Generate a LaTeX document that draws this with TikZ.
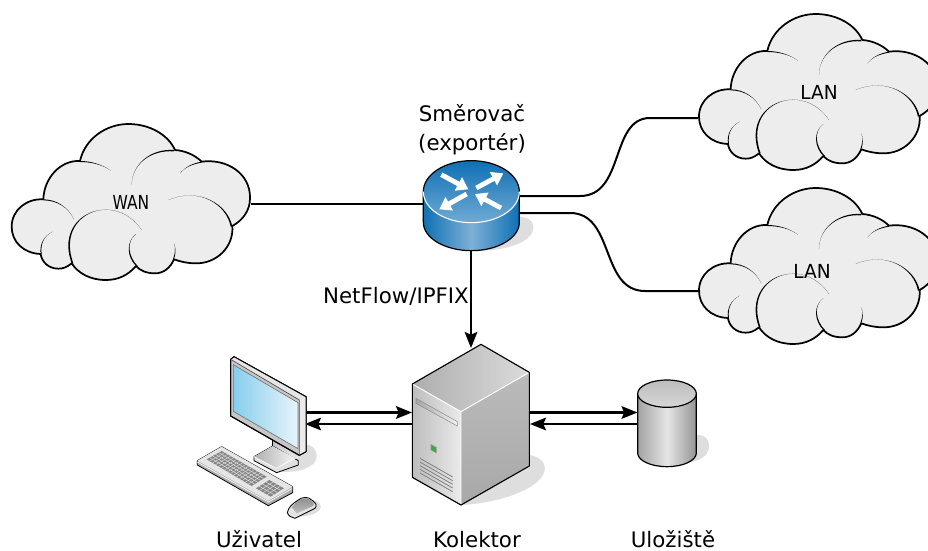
\documentclass[tikz,border=0pt]{standalone}
\usepackage{fontspec}
\usepackage{graphicx}
\setmainfont{DejaVu Sans}
\usetikzlibrary{arrows.meta,calc}
\definecolor{cloudfill}{HTML}{EDEDED}
\definecolor{shadowgray}{HTML}{DEDEDE}
\definecolor{rblue}{RGB}{15,112,180}
\definecolor{rmid}{RGB}{125,176,214}
\definecolor{rlow}{RGB}{112,170,212}
\tikzset{
  zoomscale/.style={x=.25pt,y=-.25pt},
  link/.style={line width=1.5pt,black},
  flow/.style={line width=1.6pt,black,-{Stealth[length=12pt,width=9.5pt,inset=2pt]}},
  label/.style={font=\fontsize{16pt}{21.75pt}\selectfont,align=center,inner sep=0pt,text=black},
  smalllabel/.style={font=\fontsize{14.5pt}{18pt}\selectfont,align=center,inner sep=0pt,text=black},
  outl/.style={draw=black,line width=.9pt,line join=round},
  shadowblob/.style={fill=shadowgray,draw=none},
  routerarrow/.style={white,line width=3.6pt,-{Triangle[length=8.5pt,width=11pt]}},
}
\newcommand{\tap}[5]{\fill[black] (#1) .. controls (#2) and (#3) .. (#4) .. controls (#3) and ($(#2)+(#5)$) .. ($(#1)+(#5)$) -- cycle;}
\newcommand{\cloudshape}{%
  \path[outl,fill=cloudfill,line width=1.3pt]
   (240,153) .. controls (255,85) and (320,42) .. (385,42)
   .. controls (450,42) and (505,75) .. (525,120)
   .. controls (555,122) and (585,135) .. (605,155)
   .. controls (680,145) and (752,190) .. (750,265)
   .. controls (750,300) and (730,330) .. (697,348)
   .. controls (702,410) and (650,462) .. (585,460)
   .. controls (565,460) and (540,455) .. (522,448)
   .. controls (510,475) and (490,490) .. (465,490)
   .. controls (440,490) and (420,482) .. (408,468)
   .. controls (385,495) and (355,510) .. (318,510)
   .. controls (270,510) and (235,490) .. (215,460)
   .. controls (200,472) and (190,476) .. (175,476)
   .. controls (145,476) and (125,455) .. (122,432)
   .. controls (70,430) and (35,395) .. (35,350)
   .. controls (35,300) and (80,265) .. (130,268)
   .. controls (132,205) and (180,150) .. (240,153) -- cycle;
  \tap{240,153}{275,153}{310,165}{332,182}{0,3}
  \tap{522,120}{450,115}{395,165}{395,225}{0,4}
  \tap{605,155}{575,160}{555,172}{540,190}{0,3}
  \tap{697,350}{685,285}{600,230}{505,270}{-5,0}
  \tap{215,460}{160,310}{345,240}{425,360}{5,0}
  \tap{408,468}{380,440}{378,395}{408,372}{5,0}
  \tap{522,448}{528,430}{528,415}{522,400}{-3,0}
  \tap{130,268}{170,268}{205,292}{222,328}{0,3}
  \tap{122,432}{118,405}{130,378}{158,365}{3,0}
}
\begin{document}
\begin{tikzpicture}[x=.75pt,y=-.75pt]
\useasboundingbox (0,0) rectangle (928,550);
\clip (0,0) rectangle (928,550);

% connectors
\coordinate (wanR) at (251,204);
\coordinate (rtrL) at (423,204);
\coordinate (rtrR1) at (519,196);
\coordinate (rtrR2) at (519,213);
\coordinate (lanA) at (698,118);
\coordinate (lanB) at (700,291);
\coordinate (rtrB) at (471,250);
\coordinate (srvT) at (471,348);
\coordinate (pcR1) at (305,412.5);
\coordinate (pcR2) at (305,424);
\coordinate (srvL1) at (412,412.5);
\coordinate (srvL2) at (412,424);
\coordinate (srvR1) at (530,412.5);
\coordinate (srvR2) at (530,424);
\coordinate (dbL1) at (637.5,412.5);
\coordinate (dbL2) at (637.5,424);

% clouds
\begin{scope}[shift={(0,110)},zoomscale]\cloudshape\end{scope}
\begin{scope}[shift={(687.3,0)},zoomscale]\cloudshape\end{scope}
\begin{scope}[shift={(687.3,174)},zoomscale]\cloudshape\end{scope}

\draw[link] (wanR) -- (rtrL);
\draw[link] (rtrR1) -- (580,196) .. controls (625,196) and (610,118) .. (650,118) -- (lanA);
\draw[link] (rtrR2) -- (570,213) .. controls (615,213) and (600,291) .. (645,291) -- (lanB);
\draw[flow] (rtrB) -- (srvT);
\draw[flow] (pcR1) -- (srvL1);
\draw[flow] (srvL2) -- (pcR2);
\draw[flow] (srvR1) -- (dbL1);
\draw[flow] (dbL2) -- (srvR2);

% router (zoom origin 400,90)
\begin{scope}[shift={(400,90)},zoomscale]
  \fill[shadowblob] (214,400) -- (340,380) .. controls (380,378) and (402,390) .. (400,415) .. controls (398,455) and (320,482) .. (240,482) -- cycle;
  \path[shade,left color=rblue,right color=rblue,middle color=rmid,outl]
    (70,305) -- (70,397) arc[start angle=180,end angle=0,x radius=144,y radius=85] -- (358,305) -- cycle;
  \path[shade,top color=rblue,bottom color=rlow,draw=none]
    (214,305) ellipse[x radius=144,y radius=93];
  \draw[black,line width=.9pt] (70,305) arc[start angle=180,end angle=360,x radius=144,y radius=93];
  \draw[white,line width=.8pt] (70,305) arc[start angle=180,end angle=0,x radius=144,y radius=93];
  \draw[routerarrow] (124,254) -- (205,298);
  \draw[routerarrow] (229,294) -- (310,250);
  \draw[routerarrow] (200,312) -- (118,358);
  \draw[routerarrow] (303,354) -- (225,312);
\end{scope}

% server (zoom origin 400,340)
\begin{scope}[shift={(400,340)},zoomscale]
  \fill[shadowblob] (183,495) -- (388,345) .. controls (425,350) and (440,375) .. (433,395) .. controls (420,445) and (300,490) .. (183,495) -- cycle;
  \path[shade,shading angle=60,left color=black!32,right color=black!14] (243,13) -- (388,97) -- (183,215) -- (37,132) -- cycle;
  \path[shade,left color=black!26,right color=black!8] (37,132) -- (183,215) -- (183,495) -- (37,412) -- cycle;
  \path[shade,top color=black!27,bottom color=black!34] (183,215) -- (388,97) -- (388,378) -- (183,495) -- cycle;
  \draw[white,line width=.7pt] (37,132) -- (183,215) -- (388,97) (183,215) -- (183,495);
  \draw[outl,line width=.85pt] (243,13) -- (388,97) -- (388,378) -- (183,495) -- (37,412) -- (37,132) -- cycle;
  \path[shade,left color=black!35,right color=black!5,draw=black!45,line width=.4pt] (48,175) -- (172,245) -- (172,258) -- (48,190) -- cycle;
  \fill[black!45] (92,312) -- (110,322) -- (110,340) -- (92,330) -- cycle;
  \fill[green!60!black!80] (95,317) -- (107,324) -- (107,336) -- (95,329) -- cycle;
  \foreach \d in {0,11,22,33,44}
    \draw[black!50,line width=.6pt] (60,355+\d) -- (158,411+\d);
\end{scope}

% storage (zoom origin 400,340)
\begin{scope}[shift={(400,340)},zoomscale]
  \fill[shadowblob] (880,285) .. controls (915,280) and (930,300) .. (927,325) .. controls (920,355) and (890,365) .. (860,367) -- cycle;
  \path[shade,left color=black!36,right color=black!42,middle color=black!10,outl]
    (713,161) -- (713,339) arc[start angle=180,end angle=0,x radius=88,y radius=41] -- (889,161) -- cycle;
  \path[shade,top color=black!26,bottom color=black!16,outl] (801,161) ellipse[x radius=88,y radius=41];
\end{scope}

% workstation (zoom origin 180,340)
\begin{scope}[shift={(180,340)},zoomscale]
  \fill[shadowblob] (290,395) .. controls (360,400) and (410,380) .. (410,350) .. controls (410,325) and (395,315) .. (375,312) -- cycle;
  \fill[shadowblob] (350,530) .. controls (395,530) and (425,515) .. (422,497) .. controls (418,485) and (405,480) .. (395,480) -- cycle;
  % stand
  \path[shade,top color=black!30,bottom color=black!8] (278,292) -- (345,330) -- (345,352) -- (278,318) -- cycle;
  \path[fill=black!12,outl,line width=.6pt] (222,350) -- (278,318) -- (355,362) -- (355,375) -- (290,398) -- (222,362) -- cycle;
  \path[shade,left color=black!32,right color=black!4] (222,350) -- (278,318) -- (345,354) -- (288,385) -- cycle;
  \draw[white,line width=.5pt] (222,350) -- (288,385) -- (355,350);
  \draw[black,line width=.6pt] (278,295) -- (278,318);
  % monitor body
  \path[fill=black!22,outl,line width=.75pt] (152,58) -- (162,50) -- (378,170) -- (378,335) -- (358,346) -- (152,228) -- cycle;
  \fill[black!8] (358,180) -- (378,170) -- (378,335) -- (358,346) -- cycle;
  \fill[black!10] (152,58) -- (162,50) -- (378,170) -- (358,180) -- cycle;
  \draw[black,line width=.75pt] (152,58) -- (162,50) -- (378,170) -- (378,335) -- (358,346) -- (152,228) -- cycle;
  \draw[black!70,line width=.5pt] (152,58) -- (358,180) -- (358,346);
  \path[shade,left color={rgb,255:red,135;green,206;blue,238},right color={rgb,255:red,232;green,244;blue,250},draw=black!55,line width=.5pt]
    (160,74) -- (354,188) -- (354,326) -- (160,214) -- cycle;
  % keyboard
  \path[fill=black!32,outl,line width=.6pt] (52,362) -- (125,320) -- (338,440) -- (338,458) -- (265,497) -- (52,375) -- cycle;
  \path[fill=black!10] (52,362) -- (125,320) -- (338,440) -- (265,482) -- cycle;
  \draw[white,line width=.5pt] (52,366) -- (265,486) -- (336,446);
  \fill[black!48] (80,358) -- (125,333) -- (260,410) -- (215,438) -- cycle;
  \foreach \t in {.067,.133,...,.95}
    \draw[black!10,line width=.3pt] ($(80,358)!\t!(215,438)$) -- ($(125,333)!\t!(260,410)$);
  \foreach \t in {.2,.4,.6,.8}
    \draw[black!10,line width=.35pt] ($(80,358)!\t!(125,333)$) -- ($(215,438)!\t!(260,410)$);
  \fill[black!48] (228,445) -- (268,420) -- (312,445) -- (272,470) -- cycle;
  \foreach \t in {.25,.5,.75}{
    \draw[black!10,line width=.35pt] ($(228,445)!\t!(272,470)$) -- ($(268,420)!\t!(312,445)$);
    \draw[black!10,line width=.35pt] ($(228,445)!\t!(268,420)$) -- ($(272,470)!\t!(312,445)$);
  }
  % mouse
  \path[fill=black!10,outl,line width=.65pt] (322,518) .. controls (325,500) and (340,490) .. (352,482) .. controls (365,470) and (385,468) .. (398,482) .. controls (408,490) and (412,497) .. (405,505) -- (345,535) .. controls (335,533) and (325,528) .. (322,518) -- cycle;
  \path[shade,top color=black!45,bottom color=black!25] (335,502) .. controls (345,490) and (360,472) .. (380,475) .. controls (398,482) and (404,490) .. (400,498) -- (350,520) -- cycle;
\end{scope}

% labels
\node[label] (router) at (472,130) {Směrovač\\(exportér)};
\node[label] (nf) at (396,296) {NetFlow/IPFIX};
\node[smalllabel] (wan) at (131,202) {\scalebox{.8}[1]{WAN}};
\node[smalllabel] (lan1) at (819,92) {\scalebox{.96}[1]{LAN}};
\node[smalllabel] (lan2) at (812,271) {\scalebox{.96}[1]{LAN}};
\node[label,anchor=base] (user) at (259,547.5) {Uživatel};
\node[label,anchor=base] (coll) at (477,547.5) {Kolektor};
\node[label,anchor=base] (stor) at (673,547.5) {Uložiště};
\end{tikzpicture}
\end{document}
